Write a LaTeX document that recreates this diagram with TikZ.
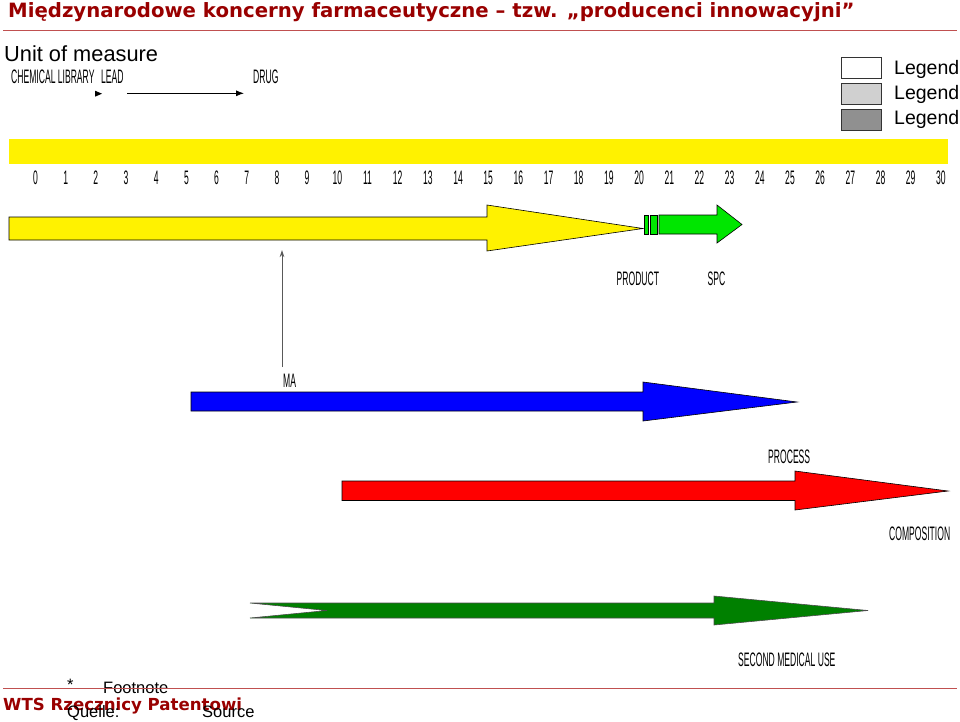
\documentclass[tikz,border=0pt]{standalone}
\usepackage{fontspec}
\setmainfont{Liberation Sans}
\newfontfamily\titlefont{DejaVu Sans}
\usetikzlibrary{arrows.meta}
\definecolor{wtsred}{RGB}{153,0,0}
\definecolor{rulered}{RGB}{192,80,80}
\definecolor{lightgreen}{RGB}{0,230,0}
\definecolor{darkgreen}{RGB}{0,128,0}
\definecolor{legendlight}{RGB}{208,208,208}
\definecolor{legenddark}{RGB}{144,144,144}
\newcommand{\narrowlabel}[1]{\scalebox{0.44}[1]{\fontsize{19.5}{19.5}\selectfont #1}}
\tikzset{
  bandarrow/.style={draw=black,line width=0.6pt},
  legendbox/.style={draw=black!80,line width=0.6pt}
}
\begin{document}
\begin{tikzpicture}[x=1pt,y=-1pt]
        \useasboundingbox (0,0) rectangle (960,721);
        % header
        \node[anchor=base west,inner sep=0pt,text=wtsred,font=\titlefont\bfseries\fontsize{19.7}{19.7}\selectfont] (title) at (8,17) {Międzynarodowe koncerny farmaceutyczne – tzw. „producenci innowacyjni”};
        \draw[rulered,line width=1pt] (3,30) -- (957,30);
        \node[anchor=base west,inner sep=0pt,font=\fontsize{21.8}{21.8}\selectfont] (unit) at (4,61) {Unit of measure};

        \begin{scope}[every node/.style={anchor=base west,inner sep=0pt}]
          \node (library) at (11,83) {\narrowlabel{CHEMICAL LIBRARY}};
          \node (lead) at (101,83) {\narrowlabel{LEAD}};
          \node (drug) at (253,83) {\narrowlabel{DRUG}};
          \node (product) at (616.5,285.5) {\narrowlabel{PRODUCT}};
          \node (spc) at (707.5,285.5) {\narrowlabel{SPC}};
          \node (ma) at (283,387) {\narrowlabel{MA}};
          \node (process) at (768,463) {\narrowlabel{PROCESS}};
          \node (composition) at (889,540) {\narrowlabel{COMPOSITION}};
          \node (medical) at (738,666) {\narrowlabel{SECOND MEDICAL USE}};
        \end{scope}
        \fill (95,90.7) -- (102,93.7) -- (95,96.7) -- cycle;
        \coordinate (leadend) at (127,93.3);
        \coordinate (drugend) at (244,93.3);
        \draw[line width=0.8pt,-{Latex[length=8pt,width=6pt]}] (leadend) -- (drugend);

        % legend
        \begin{scope}[every node/.style={anchor=base west,inner sep=0pt,font=\fontsize{19.5}{19.5}\selectfont}]
          \draw[legendbox,fill=white] (841.5,57) rectangle (881.5,78);
          \draw[legendbox,fill=legendlight] (841.5,83) rectangle (881.5,104);
          \draw[legendbox,fill=legenddark] (841.5,109) rectangle (881.5,130);
          \node (legA) at (894,74) {Legend};
          \node (legB) at (894,99.5) {Legend};
          \node (legC) at (894,124.5) {Legend};
        \end{scope}

        % time scale
        \fill[yellow] (9,138.5) rectangle (948,164);
        \foreach \i in {0,...,30}
          \node[anchor=base,inner sep=0pt] (year\i) at (35.5+30.18*\i,184) {\narrowlabel{\i}};

        % protection arrows
        \draw[bandarrow,fill=yellow] (9,217) -- (487,217) -- (487,205) -- (643,228.5) -- (487,251) -- (487,240) -- (9,240) -- cycle;
        \draw[bandarrow,fill=lightgreen] (644,215) rectangle (648,234);
        \draw[bandarrow,fill=lightgreen] (650.5,215) rectangle (657,234);
        \draw[bandarrow,fill=lightgreen] (659,215) -- (717,215) -- (717,205) -- (742,224.5) -- (717,243) -- (717,234) -- (659,234) -- cycle;
        \draw[bandarrow,fill=blue] (191,392) -- (643,392) -- (643,382) -- (797,402) -- (643,421) -- (643,411) -- (191,411) -- cycle;
        \draw[bandarrow,fill=red] (342,481) -- (795,481) -- (795,471) -- (948,491) -- (795,510) -- (795,500.5) -- (342,500.5) -- cycle;
        \draw[bandarrow,draw=black!70,fill=darkgreen] (250,603) -- (714,603) -- (714,596) -- (868,610.5) -- (714,625) -- (714,618) -- (250,618) -- (327,610.5) -- cycle;

        \coordinate (mafoot) at (282,367);
        \coordinate (matop) at (282,250);
        \draw[black!65,line width=0.9pt,-{Stealth[length=7pt,width=4.5pt]}] (mafoot) -- (matop);

        % footer
        \begin{scope}[every node/.style={anchor=base west,inner sep=0pt,font=\fontsize{16.5}{16.5}\selectfont}]
          \node (star) at (67,690) {*};
          \node (footnote) at (103,693) {Footnote};
        \end{scope}
        \draw[rulered,line width=1pt] (3,688) -- (957,688);
        \node[anchor=base west,inner sep=0pt,text=wtsred,font=\titlefont\bfseries\fontsize{16.6}{16.6}\selectfont] (wts) at (3,710) {WTS Rzecznicy Patentowi};
        \begin{scope}[every node/.style={anchor=base west,inner sep=0pt,font=\fontsize{16.5}{16.5}\selectfont}]
          \node (quelle) at (67,717) {Quelle:};
          \node (source) at (202,717) {Source};
        \end{scope}
\end{tikzpicture}
\end{document}
